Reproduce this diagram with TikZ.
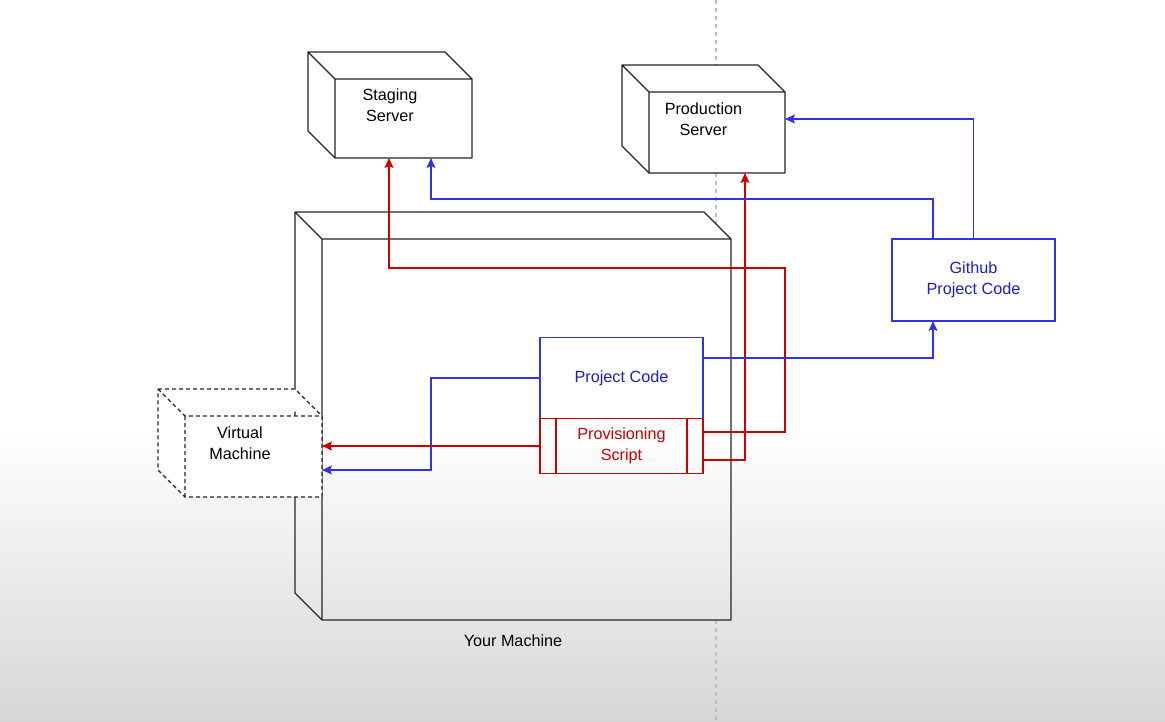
\documentclass[tikz,border=0pt]{standalone}
\usepackage{fontspec}
\setmainfont{Liberation Sans}
\usetikzlibrary{positioning,arrows.meta,backgrounds}
\definecolor{pblue}{RGB}{50,50,235}
\definecolor{tblue}{RGB}{30,30,200}
\definecolor{pred}{RGB}{205,0,0}

\tikzset{
  txt/.style={font=\fontsize{16.2}{20.5}\selectfont,align=center},
  cube/.style={txt,inner sep=0pt,outer sep=0pt},
  cubeline/.style={draw=black!85,line width=1.4pt,line join=round},
  vmline/.style={cubeline,dash pattern=on 4pt off 3pt,fill=white},
  pbox/.style={txt,draw=pblue,text=tblue,line width=1.2pt,inner sep=0pt,outer sep=0pt},
  rbox/.style={txt,draw=pred,text=pred,line width=1.2pt,inner sep=0pt,outer sep=0pt},
  bluearr/.style={color=pblue,line width=1.1pt,->},
  redarr/.style={color=pred,line width=1.1pt,->},
  guide/.style={draw=black!25,line width=1.2pt,dash pattern=on 4pt off 4pt}
}

\begin{document}
\begin{tikzpicture}[x=1pt,y=-1pt,>={Stealth[length=10pt,width=9pt,inset=2pt]}]
\useasboundingbox (0,0) rectangle (1165,721);
%построение блоков
\node[cube,minimum width=164pt,minimum height=106pt] (staging) at (390,105) {Staging\\Server};
\node[cube,minimum width=163pt,minimum height=108pt] (production) at (703.5,119) {Production\\Server};
\node[cube,minimum width=436pt,minimum height=408pt] (machine) at (513,416) {};
\node[txt,below=11pt of machine] (machinelbl) {Your Machine};
\node[cube,minimum width=164pt,minimum height=108pt] (vm) at (240,443) {Virtual\\Machine};
\node[pbox,minimum width=163pt,minimum height=81pt] (project) at (621.5,378) {Project Code};
\node[rbox,minimum width=163pt,minimum height=55pt,below=0pt of project] (prov) {Provisioning\\Script};
\node[pbox,minimum width=163pt,minimum height=82pt] (github) at (973.5,280) {Github\\Project Code};
\draw[pred,line width=1.2pt]
  ([xshift=16pt]prov.north west) -- ([xshift=16pt]prov.south west)
  ([xshift=-16pt]prov.north east) -- ([xshift=-16pt]prov.south east);
%фон, пунктир и кубы
\begin{pgfonlayer}{background}
\fill[white] (0,0) rectangle (1165,721);
\shade[top color=white,bottom color=black!16] (0,430) rectangle (1165,721);
\coordinate (guide) at (716,0);
\draw[guide] (guide) -- (guide |- production.north);
\draw[guide] (guide |- production.south) -- ([shift={(0,12)}]guide |- machine.north);
\draw[guide] (guide |- machine.south) -- (716,721);
\foreach \n/\st in {machine/cubeline,vm/vmline,staging/cubeline,production/cubeline}
  \draw[\st] (\n.north west) -- ([shift={(-27,0)}]\n.north east)
    -- ([shift={(0,27)}]\n.north east) -- (\n.south east)
    -- ([shift={(27,0)}]\n.south west) -- ([shift={(0,-27)}]\n.south west) -- cycle
    (\n.north west) -- ([shift={(27,27)}]\n.north west) -- ([shift={(0,27)}]\n.north east)
    ([shift={(27,27)}]\n.north west) -- ([shift={(27,0)}]\n.south west);
\end{pgfonlayer}
%построение связей
\draw[bluearr] (project.west) -- ++(-109,0) |- ([shift={(0,27)}]vm.east);
\draw[redarr] (prov.west) -- (prov.west -| vm.east);
\draw[redarr] ([shift={(0,-14)}]prov.east) -| ++(82,-164) -| ([xshift=-1pt]staging.south);
\draw[redarr] ([shift={(0,14)}]prov.east) -| ([xshift=41.5pt]production.south);
\draw[bluearr] ([shift={(0,-20)}]project.east) -| ([xshift=-40.5pt]github.south);
\draw[bluearr] ([xshift=-40.5pt]github.north) -- ++(0,-40) -| ([xshift=41pt]staging.south);
\draw[bluearr] (github.north) |- (production.east);
\end{tikzpicture}
\end{document}
